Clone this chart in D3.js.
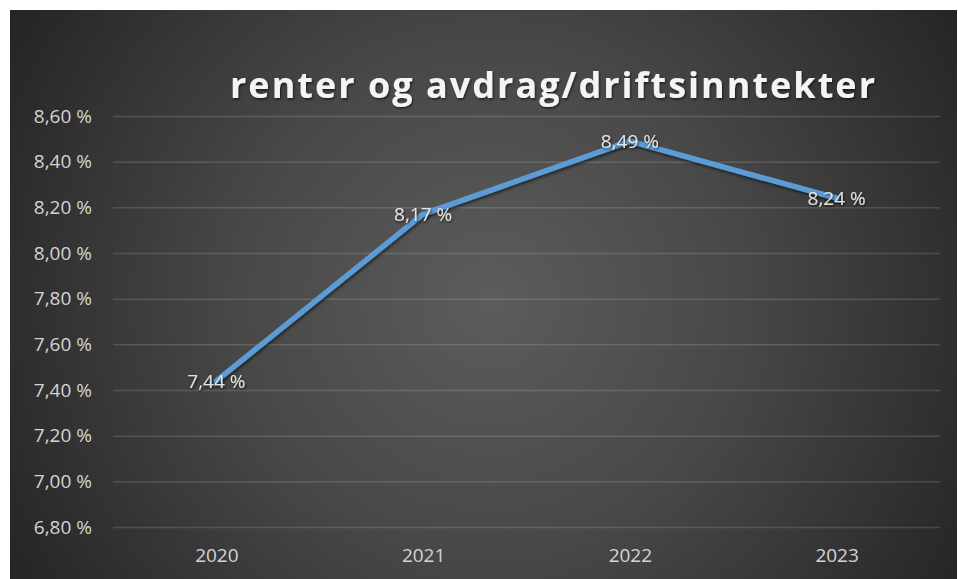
<!DOCTYPE html>
<html>
<head>
<meta charset="utf-8">
<script src="https://cdn.jsdelivr.net/npm/d3@7"></script>
<style>
  html, body { margin: 0; padding: 0; background: #ffffff; }
  svg { display: block; }
</style>
</head>
<body>
<svg id="chart" width="958" height="579"></svg>
<script>
const title = "renter og avdrag/driftsinntekter";
const categories = ["2020", "2021", "2022", "2023"];
const values = [7.44, 8.17, 8.49, 8.24];
const valueLabels = ["7,44 %", "8,17 %", "8,49 %", "8,24 %"];
const yTicks = [6.8, 7.0, 7.2, 7.4, 7.6, 7.8, 8.0, 8.2, 8.4, 8.6];
const yTickLabels = ["6,80 %", "7,00 %", "7,20 %", "7,40 %", "7,60 %", "7,80 %", "8,00 %", "8,20 %", "8,40 %", "8,60 %"];

const svg = d3.select("#chart");
const defs = svg.append("defs");

const grad = defs.append("radialGradient")
  .attr("id", "bg").attr("gradientUnits", "userSpaceOnUse")
  .attr("cx", 490).attr("cy", 300).attr("r", 560);
grad.append("stop").attr("offset", "0%").attr("stop-color", "#5c5c5c");
grad.append("stop").attr("offset", "45%").attr("stop-color", "#484848");
grad.append("stop").attr("offset", "100%").attr("stop-color", "#242424");

const shadow = defs.append("filter").attr("id", "shadow")
  .attr("x", "-10%").attr("y", "-10%").attr("width", "120%").attr("height", "130%");
shadow.append("feDropShadow").attr("dx", 1).attr("dy", 2).attr("stdDeviation", 1.5)
  .attr("flood-color", "#000").attr("flood-opacity", 0.55);

const tshadow = defs.append("filter").attr("id", "tshadow")
  .attr("x", "-5%").attr("y", "-20%").attr("width", "110%").attr("height", "150%");
tshadow.append("feDropShadow").attr("dx", 1).attr("dy", 1.5).attr("stdDeviation", 1)
  .attr("flood-color", "#000").attr("flood-opacity", 0.6);

svg.append("rect").attr("x", 10).attr("y", 10).attr("width", 947).attr("height", 569)
  .attr("fill", "url(#bg)");

const x = d3.scalePoint().domain(categories).range([113, 940]).padding(0.5);
const y = d3.scaleLinear().domain([6.8, 8.6]).range([527, 116]);

const fontFam = "'Open Sans', sans-serif";
const fs = 19;

// gridlines
const yAxis = d3.axisLeft(y).tickValues(yTicks)
  .tickFormat((d, i) => yTickLabels[i])
  .tickSize(-(940 - 113)).tickPadding(21);
const gy = svg.append("g").attr("transform", "translate(113,0)").call(yAxis);
gy.select(".domain").remove();
gy.selectAll(".tick line").attr("stroke", "rgba(255,255,255,0.14)").attr("stroke-width", 1.5);
gy.selectAll(".tick text")
  .attr("fill", "#d4d4d4").attr("font-family", fontFam).attr("font-size", fs);

const xAxis = d3.axisBottom(x).tickSize(0).tickPadding(22);
const gx = svg.append("g").attr("transform", "translate(0,527)").call(xAxis);
gx.select(".domain").remove();
gx.selectAll(".tick text")
  .attr("fill", "#d4d4d4").attr("font-family", fontFam).attr("font-size", fs);

// line
const line = d3.line().x((d, i) => x(categories[i])).y(d => y(d));
svg.append("path").datum(values)
  .attr("d", line)
  .attr("fill", "none")
  .attr("stroke", "#5b9bd5")
  .attr("stroke-width", 5.5)
  .attr("stroke-linejoin", "round")
  .attr("stroke-linecap", "round")
  .attr("filter", "url(#shadow)");

// data labels
svg.append("g").selectAll("text").data(values).join("text")
  .attr("x", (d, i) => x(categories[i]))
  .attr("y", d => y(d))
  .attr("dy", "0.35em")
  .attr("text-anchor", "middle")
  .attr("fill", "#e2e2e2")
  .attr("font-family", fontFam)
  .attr("font-size", fs)
  .attr("filter", "url(#tshadow)")
  .text((d, i) => valueLabels[i]);

// title
svg.append("text")
  .attr("x", 230).attr("y", 98)
  .attr("textLength", 645).attr("lengthAdjust", "spacing")
  .attr("fill", "#f4f4f4")
  .attr("font-family", fontFam)
  .attr("font-weight", "bold")
  .attr("font-size", 36)
  .attr("filter", "url(#tshadow)")
  .text(title);
</script>
</body>
</html>
